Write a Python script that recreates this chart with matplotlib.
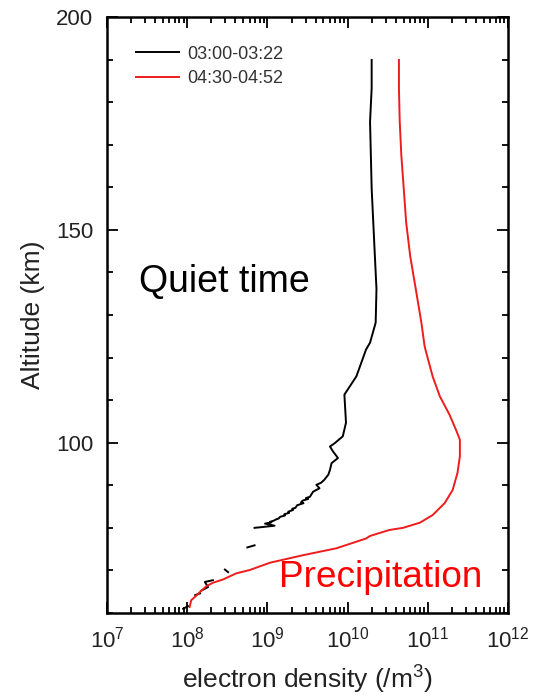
import numpy as np
import matplotlib
matplotlib.use('Agg')
import matplotlib.pyplot as plt
from matplotlib.ticker import LogLocator, MultipleLocator, NullFormatter, FixedLocator

plt.rcParams['font.family'] = ['Liberation Sans', 'DejaVu Sans']
plt.rcParams['mathtext.fontset'] = 'custom'
plt.rcParams['mathtext.rm'] = 'Liberation Sans'
plt.rcParams['mathtext.it'] = 'Liberation Sans:italic'
plt.rcParams['mathtext.bf'] = 'Liberation Sans:bold'

# ---- data: altitude (km) and log10 electron density (/m^3) ----
quiet_label = '03:00-03:22'
quiet_alt = [189.9, 183.3, 175.4, 167.5, 159.7, 151.8, 143.9, 136.1, 128.2, 123.5,
             121.9, 115.6, 111.3,
             104.7, 103.1, 101.5, 99.9, 99.1, 97.9, 96.4, 95.2, 93.6, 92.5,
             91.3, 90.6, 90.1, 89.3, 88.5, 87.3, 87.0, 86.8, 86.4, 86.0,
             85.8, 85.3, 85.0, 84.7, 84.5, 84.2, 83.8, 83.5, 83.2, 82.9,
             82.6, 82.2, 82.0, 81.7, 81.4, 81.3, 81.0, 80.5, 80.0,
             np.nan, 75.9, 75.4,
             np.nan, 70.2, 69.6,
             np.nan, 67.7, 67.3, 66.1, 65.3,
             np.nan, 64.6, 64.2,
             np.nan, 61.6, 61.0]
quiet_logn = [10.30, 10.30, 10.28, 10.29, 10.30, 10.32, 10.34, 10.36, 10.35, 10.28,
              10.23, 10.11, 9.96,
              9.98, 9.96, 9.94, 9.84, 9.78, 9.82, 9.88, 9.80, 9.78, 9.76,
              9.71, 9.67, 9.61, 9.65, 9.57, 9.53, 9.48, 9.51, 9.44, 9.42,
              9.45, 9.37, 9.36, 9.35, 9.31, 9.32, 9.26, 9.27, 9.21, 9.22,
              9.16, 9.14, 9.11, 9.08, 9.03, 9.05, 8.97, 9.09, 8.84,
              np.nan, 8.84, 8.75,
              np.nan, 8.47, 8.51,
              np.nan, 8.32, 8.22, 8.26, 8.18,
              np.nan, 8.16, 8.10,
              np.nan, 8.01, 7.95]

precip_label = '04:30-04:52'
precip_alt = [189.9, 183.3, 175.4, 167.5, 159.7, 151.8, 143.9, 136.1, 128.2, 122.7,
              121.2, 115.6, 110.9, 106.6, 103.1, 100.7, 96.8, 92.9, 88.9, 85.8,
              83.0, 81.2, 80.0, 79.5, 78.1, 77.5, 75.2, 73.6, 71.8, 70.1,
              69.3, 67.9, 67.1, 66.3, 65.3, 64.2, 63.0, 61.4]
precip_logn = [10.64, 10.64, 10.65, 10.67, 10.70, 10.73, 10.78, 10.85, 10.92, 10.96,
               10.98, 11.06, 11.15, 11.27, 11.35, 11.40, 11.40, 11.37, 11.31, 11.21,
               11.06, 10.90, 10.69, 10.52, 10.28, 10.23, 9.86, 9.45, 9.03, 8.78,
               8.61, 8.45, 8.32, 8.24, 8.18, 8.12, 8.05, 8.03]

x_limits = (1e7, 1e12)
y_limits = (60, 200)
y_major = [100, 150, 200]

fig = plt.figure(figsize=(5.34, 6.95), dpi=100)
ax = fig.add_axes([107/534, 82/695, 401/534, 596/695])

ax.plot(10**np.array(quiet_logn), quiet_alt, color='black', lw=1.4,
        solid_joinstyle='round', label=quiet_label)
ax.plot(10**np.array(precip_logn), precip_alt, color='#ee1c1c', lw=1.4,
        solid_joinstyle='round', label=precip_label)

ax.set_xscale('log')
ax.set_xlim(*x_limits)
ax.set_ylim(*y_limits)

ax.xaxis.set_major_locator(LogLocator(base=10, numticks=10))
ax.xaxis.set_minor_locator(LogLocator(base=10, subs=np.arange(2, 10), numticks=100))
ax.xaxis.set_minor_formatter(NullFormatter())
ax.yaxis.set_major_locator(FixedLocator(y_major))
ax.yaxis.set_minor_locator(MultipleLocator(10))

ax.tick_params(which='both', direction='in', top=True, right=True, width=1.3, colors='black')
ax.tick_params(which='major', length=8, labelsize=16, labelcolor='#222222', pad=10)
ax.tick_params(which='minor', length=4)
for s in ax.spines.values():
    s.set_linewidth(1.8)

ax.set_ylabel('Altitude (km)', fontsize=19, color='#222222')
ax.yaxis.set_label_coords(-0.155, 0.5)
ax.set_xlabel('electron density (/m$^3$)', fontsize=19, color='#222222')
ax.xaxis.set_label_coords(0.5, -0.085)

ax.legend(loc='upper left', bbox_to_anchor=(0.072, 0.952), frameon=False,
          fontsize=13, handlelength=2.4, handletextpad=0.45, labelspacing=0.4,
          borderpad=0, borderaxespad=0, labelcolor='#333333')

ax.text(0.292, 0.555, 'Quiet time', transform=ax.transAxes, fontsize=27,
        color='black', ha='center', va='center')
ax.text(0.683, 0.059, 'Precipitation', transform=ax.transAxes, fontsize=26.6,
        color='#ff0000', ha='center', va='center')

fig.savefig('out.png', dpi=100)
